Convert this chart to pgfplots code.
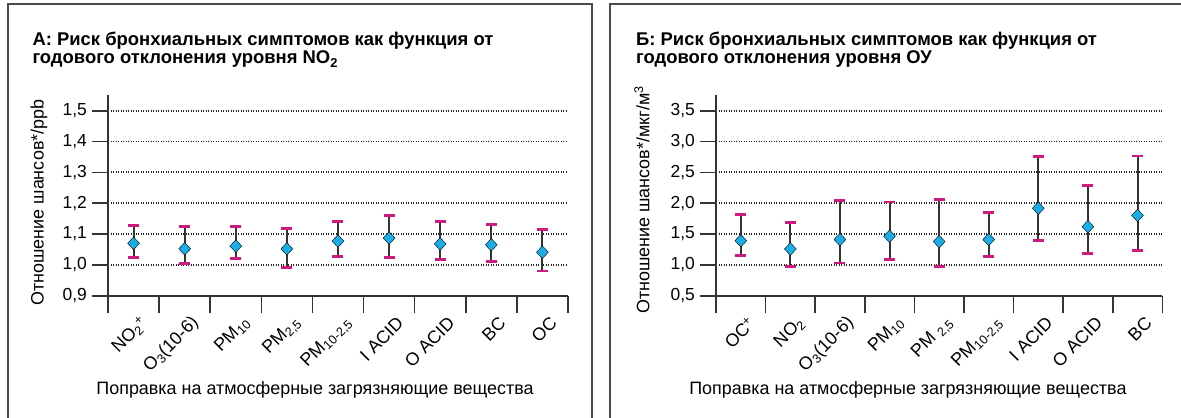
\documentclass[border=0pt]{standalone}
\usepackage{fontspec}
\setmainfont{Liberation Sans}
\usepackage{pgfplots}
\pgfplotsset{compat=1.18}
\usepackage{pgfplotstable}

\definecolor{markcyan}{HTML}{1BAEE6}
\definecolor{capmag}{HTML}{D01A80}
\definecolor{barline}{HTML}{333333}
\definecolor{framegray}{HTML}{4A4A4A}
\definecolor{gridgray}{HTML}{222222}

% Odds ratio per ppb NO2, with 95% confidence limits
\pgfplotstableread{
x y     lo    hi
1 1.070 1.024 1.129
2 1.052 1.005 1.125
3 1.061 1.020 1.125
4 1.052 0.992 1.119
5 1.077 1.027 1.142
6 1.087 1.024 1.160
7 1.068 1.018 1.142
8 1.065 1.010 1.131
9 1.041 0.980 1.114
}\noTwoTable

% Odds ratio per ug/m3 OC, with 95% confidence limits
\pgfplotstableread{
x y     lo    hi
1 1.392 1.146 1.822
2 1.257 0.973 1.689
3 1.411 1.031 2.046
4 1.465 1.085 2.019
5 1.378 0.972 2.062
6 1.411 1.129 1.845
7 1.919 1.397 2.754
8 1.619 1.189 2.289
9 1.802 1.232 2.765
}\ocTable

\pgfplotsset{
  panel/.style={
    scale only axis,
    anchor=south west,
    height=200.7bp,
    clip=false,
    axis x line=bottom,
    axis y line=left,
    axis line style={-, line width=1.6bp, barline},
    xmin=0.5, xmax=9.5,
    xtick={1,...,9},
    minor xtick={0.5,1.5,...,9.5},
    major x tick style={draw=none},
    minor x tick style={line width=1.6bp, barline},
    minor tick length=17bp,
    major tick length=16bp,
    y tick style={line width=1.6bp, barline},
    tick align=outside,
    ymajorgrids,
    grid style={line width=1.8bp, gridgray, dash pattern=on 1.1bp off 1.4bp},
    yticklabel style={font=\fontsize{17.5}{17.5}\selectfont, inner sep=0pt, xshift=-5bp},
    xticklabel style={font=\fontsize{18}{18}\selectfont, rotate=45, anchor=east, inner sep=0pt, yshift=-14bp, xshift=2bp},
    label style={font=\fontsize{18}{18}\selectfont},
    /pgf/number format/.cd, use comma, fixed, fixed zerofill, precision=1, assume math mode=true,
  },
  ci/.style={
    only marks, mark=none,
    error bars/.cd, y dir=both, y explicit,
    error bar style={line width=2bp, barline},
    error mark=|,
    error mark options={capmag, line width=2.9bp, mark size=5.5bp},
  },
  pt/.style={
    only marks, mark=diamond*, mark size=6.3bp,
    mark options={xscale=1.25, fill=markcyan, draw=none},
  },
}

\begin{document}
\begin{tikzpicture}
\useasboundingbox (0bp,0bp) rectangle (1181bp,418bp);

% panel frames
\draw[framegray, line width=1.8bp] (8.3bp,0bp) -- (8.3bp,414bp) -- (591.7bp,414bp) -- (591.7bp,0bp);
\draw[framegray, line width=1.8bp] (610bp,0bp) -- (610bp,414bp) -- (1181bp,414bp);

% panel titles
\tikzset{ttl/.style={anchor=base west, inner sep=0pt, font=\fontsize{18.5}{18.5}\selectfont\bfseries}}
\node[ttl] at (32.3bp,372.3bp) {А: Риск бронхиальных симптомов как функция от};
\node[ttl] at (32.3bp,354bp) {годового отклонения уровня NO\textsubscript{2}};
\node[ttl] at (636bp,372.3bp) {Б: Риск бронхиальных симптомов как функция от};
\node[ttl] at (636bp,354bp) {годового отклонения уровня ОУ};

\begin{axis}[panel,
  at={(108bp,122.3bp)}, width=460bp,
  ymin=0.9, ymax=1.551,
  ytick={0.9,1.0,...,1.5},
  xticklabels={NO\textsubscript{2}\textsuperscript{+}, O\textsubscript{3}(10-6), PM\textsubscript{10}, {PM\textsubscript{2,5}}, {PM\textsubscript{10-2,5}}, I ACID, O ACID, BC, OC},
  ylabel={Отношение шансов*/ppb},
  ylabel style={at={(axis description cs:0,0.464)}, anchor=center, yshift=69bp},
  xlabel={Поправка на атмосферные загрязняющие вещества},
  xlabel style={at={(axis description cs:0.45,-0.47)}, anchor=center},
]
\addplot+[ci] table[x=x, y=y, y error plus expr=\thisrow{hi}-\thisrow{y}, y error minus expr=\thisrow{y}-\thisrow{lo}] {\noTwoTable};
\addplot[pt] table[x=x, y=y] {\noTwoTable};
\end{axis}

\begin{axis}[panel,
  at={(716bp,122.3bp)}, width=446.3bp,
  ymin=0.5, ymax=3.755,
  ytick={0.5,1.0,...,3.5},
  xticklabels={OC\textsuperscript{+}, NO\textsubscript{2}, O\textsubscript{3}(10-6), PM\textsubscript{10}, {PM \textsubscript{2,5}}, {PM\textsubscript{10-2,5}}, I ACID, O ACID, BC},
  ylabel={Отношение шансов*/мкг/м\textsuperscript{3}},
  ylabel style={at={(axis description cs:0,0.477)}, anchor=center, yshift=74bp},
  xlabel={Поправка на атмосферные загрязняющие вещества},
  xlabel style={at={(axis description cs:0.43,-0.47)}, anchor=center},
]
\addplot+[ci] table[x=x, y=y, y error plus expr=\thisrow{hi}-\thisrow{y}, y error minus expr=\thisrow{y}-\thisrow{lo}] {\ocTable};
\addplot[pt] table[x=x, y=y] {\ocTable};
\end{axis}
\end{tikzpicture}
\end{document}
